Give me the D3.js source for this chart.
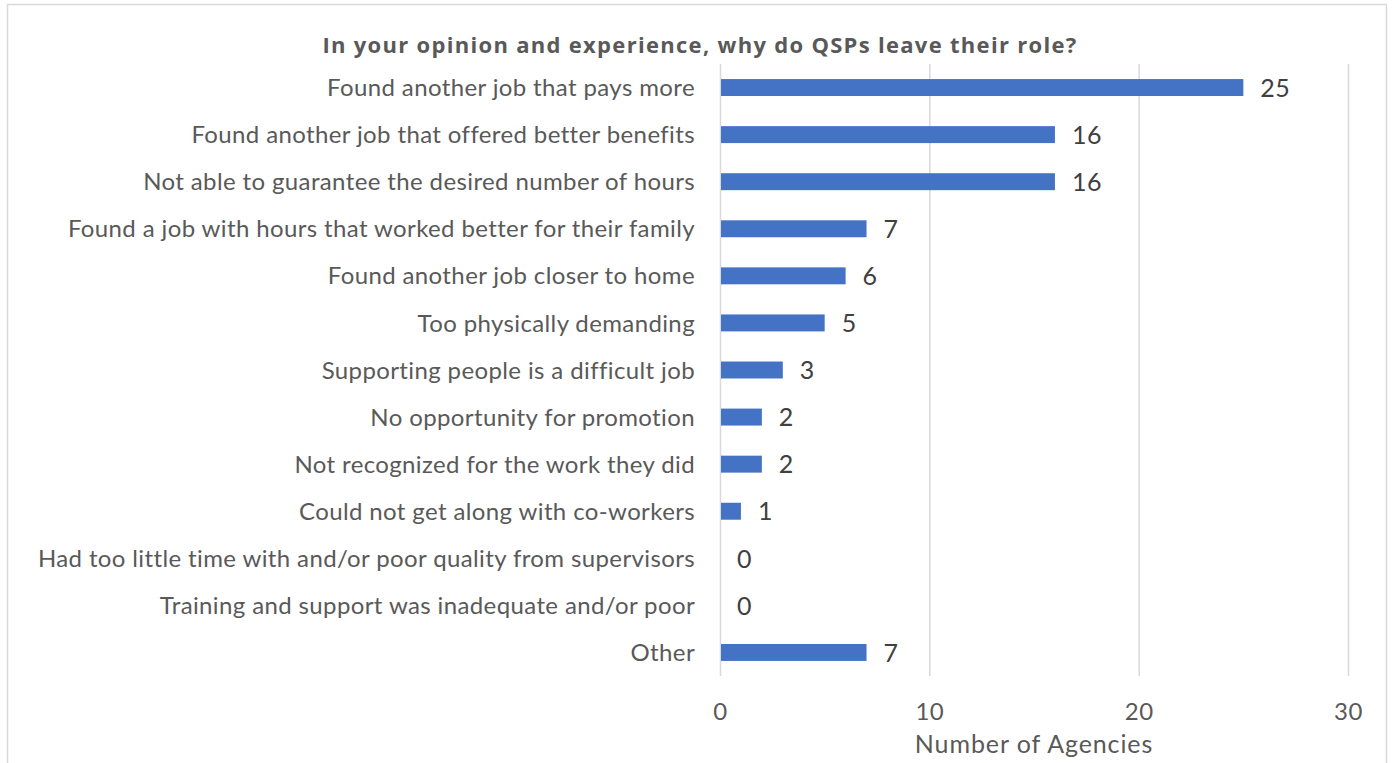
<!DOCTYPE html>
<html>
<head>
<meta charset="utf-8">
<script src="https://cdn.jsdelivr.net/npm/d3@7"></script>
<style>
  html, body { margin: 0; padding: 0; background: #fff; }
  svg { display: block; }
  text { font-family: Lato, "Open Sans", sans-serif; }
</style>
</head>
<body>
<svg id="chart" width="1400" height="763"></svg>
<script>
const title = "In your opinion and experience, why do QSPs leave their role?";
const categories = [
  "Found another job that pays more",
  "Found another job that offered better benefits",
  "Not able to guarantee the desired number of hours",
  "Found a job with hours that worked better for their family",
  "Found another job closer to home",
  "Too physically demanding",
  "Supporting people is a difficult job",
  "No opportunity for promotion",
  "Not recognized for the work they did",
  "Could not get along with co-workers",
  "Had too little time with and/or poor quality from supervisors",
  "Training and support was inadequate and/or poor",
  "Other"
];
const values = [25, 16, 16, 7, 6, 5, 3, 2, 2, 1, 0, 0, 7];
const xTicks = [0, 10, 20, 30];
const xAxisTitle = "Number of Agencies";

const svg = d3.select("#chart");

// chart border
svg.append("rect")
  .attr("x", 7.5).attr("y", 4.5)
  .attr("width", 1379).attr("height", 800)
  .attr("fill", "#fff").attr("stroke", "#d9d9d9").attr("stroke-width", 1.5);

const plotL = 720, plotR = 1348, plotT = 64, plotB = 676;

const x = d3.scaleLinear().domain([0, 30]).range([plotL, plotR]);
const y = d3.scaleBand().domain(categories).range([plotT, plotB]).paddingInner(0.64).paddingOuter(0.32);

// gridlines
svg.append("g").selectAll("line").data(xTicks).join("line")
  .attr("x1", d => x(d) + 0.5).attr("x2", d => x(d) + 0.5)
  .attr("y1", plotT).attr("y2", plotB)
  .attr("stroke", "#d9d9d9").attr("stroke-width", 1.5);

// bars
svg.append("g").selectAll("rect").data(values).join("rect")
  .attr("x", x(0) + 1)
  .attr("y", (d, i) => y(categories[i]))
  .attr("width", d => Math.max(0, x(d) - x(0) - 1))
  .attr("height", y.bandwidth())
  .attr("fill", "#4472c4");

// category labels
svg.append("g").selectAll("text").data(categories).join("text")
  .attr("x", 695)
  .attr("y", d => y(d) + y.bandwidth() / 2)
  .attr("dy", "0.36em")
  .attr("text-anchor", "end")
  .attr("font-size", 24)
  .attr("letter-spacing", 0.38)
  .attr("fill", "#595959")
  .text(d => d);

// value labels
svg.append("g").selectAll("text").data(values).join("text")
  .attr("x", d => x(d) + 17)
  .attr("y", (d, i) => y(categories[i]) + y.bandwidth() / 2)
  .attr("dy", "0.37em")
  .attr("font-size", 25)
  .attr("letter-spacing", 0.5)
  .attr("fill", "#404040")
  .text(d => d);

// x axis tick labels
const xAxis = d3.axisBottom(x).tickValues(xTicks).tickSize(0).tickPadding(0);
const gx = svg.append("g").attr("transform", `translate(0, 703)`).call(xAxis);
gx.select(".domain").remove();
gx.selectAll("text")
  .attr("font-size", 24)
  .attr("letter-spacing", 0.5)
  .attr("fill", "#595959")
  .style("font-family", "Lato, 'Open Sans', sans-serif");

// axis title
svg.append("text")
  .attr("x", x(15)).attr("y", 753)
  .attr("text-anchor", "middle")
  .attr("font-size", 25)
  .attr("letter-spacing", 0.9)
  .attr("fill", "#595959")
  .text(xAxisTitle);

// title
svg.append("text")
  .attr("x", 700).attr("y", 53)
  .attr("text-anchor", "middle")
  .attr("font-size", 22)
  .attr("font-weight", "bold")
  .attr("letter-spacing", 1.3)
  .attr("fill", "#595959")
  .style("font-family", "'Open Sans', Lato, sans-serif")
  .text(title);
</script>
</body>
</html>
